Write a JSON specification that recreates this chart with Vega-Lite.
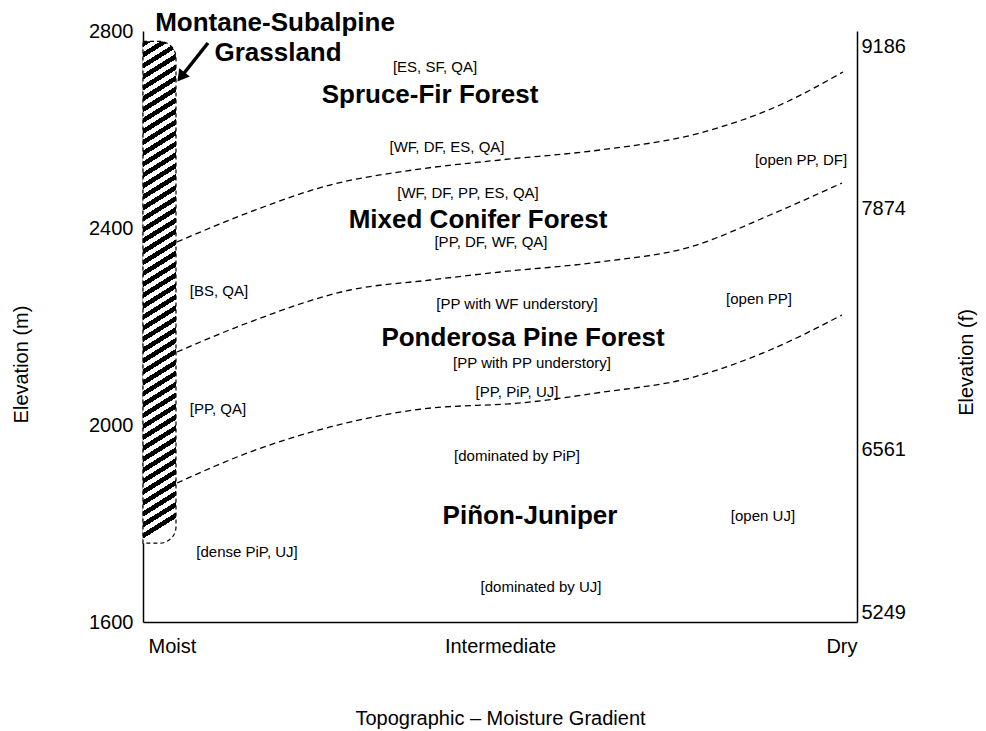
{
  "$schema": "https://vega.github.io/schema/vega-lite/v6.json",
  "autosize": "none",
  "width": 714,
  "height": 591,
  "padding": {"left": 143, "top": 31, "right": 129, "bottom": 109},
  "background": "white",
  "config": {
    "view": {"stroke": null},
    "font": "Liberation Sans",
    "axis": {
      "ticks": false,
      "grid": false,
      "domainColor": "black",
      "domainWidth": 1.5,
      "labelColor": "black",
      "titleColor": "black",
      "labelFont": "Liberation Sans",
      "titleFont": "Liberation Sans",
      "labelFontSize": 20,
      "titleFontSize": 20,
      "titleFontWeight": "normal"
    }
  },
  "datasets": {
    "band": [
      {"zone": "Montane-Subalpine Grassland", "x": 0, "x2": 0.0462, "elev": 1760, "elev2": 2779}
    ],
    "boundaries": [
      {"boundary": "Spruce-Fir / Mixed Conifer", "x": 0.0476, "elev": 2371.6},
      {"boundary": "Spruce-Fir / Mixed Conifer", "x": 0.1499, "elev": 2432.5},
      {"boundary": "Spruce-Fir / Mixed Conifer", "x": 0.2619, "elev": 2487.3},
      {"boundary": "Spruce-Fir / Mixed Conifer", "x": 0.3782, "elev": 2517.8},
      {"boundary": "Spruce-Fir / Mixed Conifer", "x": 0.5, "elev": 2538.1},
      {"boundary": "Spruce-Fir / Mixed Conifer", "x": 0.6401, "elev": 2558.4},
      {"boundary": "Spruce-Fir / Mixed Conifer", "x": 0.7801, "elev": 2592.9},
      {"boundary": "Spruce-Fir / Mixed Conifer", "x": 0.8922, "elev": 2649.8},
      {"boundary": "Spruce-Fir / Mixed Conifer", "x": 0.9804, "elev": 2716.8},
      {"boundary": "Mixed Conifer / Ponderosa", "x": 0.0476, "elev": 2148.2},
      {"boundary": "Mixed Conifer / Ponderosa", "x": 0.1499, "elev": 2209.2},
      {"boundary": "Mixed Conifer / Ponderosa", "x": 0.2899, "elev": 2274.1},
      {"boundary": "Mixed Conifer / Ponderosa", "x": 0.402, "elev": 2294.4},
      {"boundary": "Mixed Conifer / Ponderosa", "x": 0.5, "elev": 2310.7},
      {"boundary": "Mixed Conifer / Ponderosa", "x": 0.6401, "elev": 2331.0},
      {"boundary": "Mixed Conifer / Ponderosa", "x": 0.7661, "elev": 2361.4},
      {"boundary": "Mixed Conifer / Ponderosa", "x": 0.8782, "elev": 2426.4},
      {"boundary": "Mixed Conifer / Ponderosa", "x": 0.979, "elev": 2491.4},
      {"boundary": "Ponderosa / Pinyon-Juniper", "x": 0.0476, "elev": 1882.2},
      {"boundary": "Ponderosa / Pinyon-Juniper", "x": 0.1499, "elev": 1945.2},
      {"boundary": "Ponderosa / Pinyon-Juniper", "x": 0.2619, "elev": 1996.0},
      {"boundary": "Ponderosa / Pinyon-Juniper", "x": 0.388, "elev": 2032.0},
      {"boundary": "Ponderosa / Pinyon-Juniper", "x": 0.5378, "elev": 2046.0},
      {"boundary": "Ponderosa / Pinyon-Juniper", "x": 0.6401, "elev": 2066.0},
      {"boundary": "Ponderosa / Pinyon-Juniper", "x": 0.7661, "elev": 2095.4},
      {"boundary": "Ponderosa / Pinyon-Juniper", "x": 0.8782, "elev": 2152.3},
      {"boundary": "Ponderosa / Pinyon-Juniper", "x": 0.979, "elev": 2223.4}
    ],
    "labels": [
      {"kind": "zone", "label": "Montane-Subalpine", "x": 0.1849, "elev": 2816.3},
      {"kind": "zone", "label": "Grassland", "x": 0.1891, "elev": 2755.4},
      {"kind": "zone", "label": "Spruce-Fir Forest", "x": 0.402, "elev": 2670.1},
      {"kind": "zone", "label": "Mixed Conifer Forest", "x": 0.4692, "elev": 2416.3},
      {"kind": "zone", "label": "Ponderosa Pine Forest", "x": 0.5322, "elev": 2176.7},
      {"kind": "zone", "label": "Piñon-Juniper", "x": 0.542, "elev": 1815.2},
      {"kind": "species", "label": "[ES, SF, QA]", "x": 0.409, "elev": 2726.9},
      {"kind": "species", "label": "[WF, DF, ES, QA]", "x": 0.4258, "elev": 2564.5},
      {"kind": "species", "label": "[open PP, DF]", "x": 0.9216, "elev": 2538.1},
      {"kind": "species", "label": "[WF, DF, PP, ES, QA]", "x": 0.4552, "elev": 2471.1},
      {"kind": "species", "label": "[PP, DF, WF, QA]", "x": 0.4874, "elev": 2371.6},
      {"kind": "species", "label": "[BS, QA]", "x": 0.1064, "elev": 2272.1},
      {"kind": "species", "label": "[open PP]", "x": 0.8627, "elev": 2255.9},
      {"kind": "species", "label": "[PP with WF understory]", "x": 0.5238, "elev": 2245.7},
      {"kind": "species", "label": "[PP with PP understory]", "x": 0.5448, "elev": 2125.9},
      {"kind": "species", "label": "[PP, PiP, UJ]", "x": 0.5238, "elev": 2067.0},
      {"kind": "species", "label": "[PP, QA]", "x": 0.105, "elev": 2032.5},
      {"kind": "species", "label": "[dominated by PiP]", "x": 0.5238, "elev": 1937.1},
      {"kind": "species", "label": "[open UJ]", "x": 0.8683, "elev": 1815.2},
      {"kind": "species", "label": "[dense PiP, UJ]", "x": 0.1457, "elev": 1742.1},
      {"kind": "species", "label": "[dominated by UJ]", "x": 0.5574, "elev": 1671.1}
    ],
    "arrow": [
      {"x": 0.0532, "elev": 2706.6, "x2": 0.091, "elev2": 2775.6}
    ],
    "feet": [
      {"m": 1600, "ft": 5249},
      {"m": 2000, "ft": 6561},
      {"m": 2400, "ft": 7874},
      {"m": 2800, "ft": 9186}
    ]
  },
  "layer": [
    {
      "encoding": {
        "x": {
          "field": "x",
          "type": "quantitative",
          "scale": {"domain": [0, 1], "nice": false, "zero": false},
          "axis": {
            "values": [0, 0.5, 1],
            "labelExpr": "datum.value == 0 ? 'Moist' : (datum.value == 1 ? 'Dry' : 'Intermediate')",
            "labelFlush": true,
            "labelBaseline": "top",
            "labelPadding": 14,
            "labelOffset": {"condition": {"test": "datum.value == 0", "value": 5}, "value": 0},
            "title": "Topographic – Moisture Gradient",
            "titleX": 357,
            "titleY": 96,
            "titleBaseline": "middle",
            "titleAlign": "center"
          }
        },
        "y": {
          "field": "elev",
          "type": "quantitative",
          "scale": {"domain": [1600, 2800], "nice": false, "zero": false},
          "axis": {
            "values": [1600, 2000, 2400, 2800],
            "format": "d",
            "labelPadding": 10,
            "labelBaseline": "middle",
            "title": "Elevation (m)",
            "titleAngle": -90,
            "titleX": -122,
            "titleY": 333,
            "titleBaseline": "middle",
            "titleAlign": "center"
          }
        }
      },
      "layer": [
        {
          "data": {"name": "band"},
          "mark": {
            "type": "rect",
            "stroke": "black",
            "strokeWidth": 1.2,
            "strokeDash": [4, 3],
            "cornerRadiusTopRight": 33,
            "cornerRadiusBottomRight": 33,
            "fill": {
              "gradient": "linear",
              "x1": 0, "y1": 0, "x2": 0.041, "y2": 1,
              "stops": [
                {"offset": 0, "color": "#000"}, {"offset": 0.0109, "color": "#000"}, {"offset": 0.0109, "color": "#fff"}, {"offset": 0.0217, "color": "#fff"},
                {"offset": 0.0217, "color": "#000"}, {"offset": 0.0326, "color": "#000"}, {"offset": 0.0326, "color": "#fff"}, {"offset": 0.0435, "color": "#fff"},
                {"offset": 0.0435, "color": "#000"}, {"offset": 0.0543, "color": "#000"}, {"offset": 0.0543, "color": "#fff"}, {"offset": 0.0652, "color": "#fff"},
                {"offset": 0.0652, "color": "#000"}, {"offset": 0.0761, "color": "#000"}, {"offset": 0.0761, "color": "#fff"}, {"offset": 0.087, "color": "#fff"},
                {"offset": 0.087, "color": "#000"}, {"offset": 0.0978, "color": "#000"}, {"offset": 0.0978, "color": "#fff"}, {"offset": 0.1087, "color": "#fff"},
                {"offset": 0.1087, "color": "#000"}, {"offset": 0.1196, "color": "#000"}, {"offset": 0.1196, "color": "#fff"}, {"offset": 0.1304, "color": "#fff"},
                {"offset": 0.1304, "color": "#000"}, {"offset": 0.1413, "color": "#000"}, {"offset": 0.1413, "color": "#fff"}, {"offset": 0.1522, "color": "#fff"},
                {"offset": 0.1522, "color": "#000"}, {"offset": 0.163, "color": "#000"}, {"offset": 0.163, "color": "#fff"}, {"offset": 0.1739, "color": "#fff"},
                {"offset": 0.1739, "color": "#000"}, {"offset": 0.1848, "color": "#000"}, {"offset": 0.1848, "color": "#fff"}, {"offset": 0.1957, "color": "#fff"},
                {"offset": 0.1957, "color": "#000"}, {"offset": 0.2065, "color": "#000"}, {"offset": 0.2065, "color": "#fff"}, {"offset": 0.2174, "color": "#fff"},
                {"offset": 0.2174, "color": "#000"}, {"offset": 0.2283, "color": "#000"}, {"offset": 0.2283, "color": "#fff"}, {"offset": 0.2391, "color": "#fff"},
                {"offset": 0.2391, "color": "#000"}, {"offset": 0.25, "color": "#000"}, {"offset": 0.25, "color": "#fff"}, {"offset": 0.2609, "color": "#fff"},
                {"offset": 0.2609, "color": "#000"}, {"offset": 0.2717, "color": "#000"}, {"offset": 0.2717, "color": "#fff"}, {"offset": 0.2826, "color": "#fff"},
                {"offset": 0.2826, "color": "#000"}, {"offset": 0.2935, "color": "#000"}, {"offset": 0.2935, "color": "#fff"}, {"offset": 0.3043, "color": "#fff"},
                {"offset": 0.3043, "color": "#000"}, {"offset": 0.3152, "color": "#000"}, {"offset": 0.3152, "color": "#fff"}, {"offset": 0.3261, "color": "#fff"},
                {"offset": 0.3261, "color": "#000"}, {"offset": 0.337, "color": "#000"}, {"offset": 0.337, "color": "#fff"}, {"offset": 0.3478, "color": "#fff"},
                {"offset": 0.3478, "color": "#000"}, {"offset": 0.3587, "color": "#000"}, {"offset": 0.3587, "color": "#fff"}, {"offset": 0.3696, "color": "#fff"},
                {"offset": 0.3696, "color": "#000"}, {"offset": 0.3804, "color": "#000"}, {"offset": 0.3804, "color": "#fff"}, {"offset": 0.3913, "color": "#fff"},
                {"offset": 0.3913, "color": "#000"}, {"offset": 0.4022, "color": "#000"}, {"offset": 0.4022, "color": "#fff"}, {"offset": 0.413, "color": "#fff"},
                {"offset": 0.413, "color": "#000"}, {"offset": 0.4239, "color": "#000"}, {"offset": 0.4239, "color": "#fff"}, {"offset": 0.4348, "color": "#fff"},
                {"offset": 0.4348, "color": "#000"}, {"offset": 0.4457, "color": "#000"}, {"offset": 0.4457, "color": "#fff"}, {"offset": 0.4565, "color": "#fff"},
                {"offset": 0.4565, "color": "#000"}, {"offset": 0.4674, "color": "#000"}, {"offset": 0.4674, "color": "#fff"}, {"offset": 0.4783, "color": "#fff"},
                {"offset": 0.4783, "color": "#000"}, {"offset": 0.4891, "color": "#000"}, {"offset": 0.4891, "color": "#fff"}, {"offset": 0.5, "color": "#fff"},
                {"offset": 0.5, "color": "#000"}, {"offset": 0.5109, "color": "#000"}, {"offset": 0.5109, "color": "#fff"}, {"offset": 0.5217, "color": "#fff"},
                {"offset": 0.5217, "color": "#000"}, {"offset": 0.5326, "color": "#000"}, {"offset": 0.5326, "color": "#fff"}, {"offset": 0.5435, "color": "#fff"},
                {"offset": 0.5435, "color": "#000"}, {"offset": 0.5543, "color": "#000"}, {"offset": 0.5543, "color": "#fff"}, {"offset": 0.5652, "color": "#fff"},
                {"offset": 0.5652, "color": "#000"}, {"offset": 0.5761, "color": "#000"}, {"offset": 0.5761, "color": "#fff"}, {"offset": 0.587, "color": "#fff"},
                {"offset": 0.587, "color": "#000"}, {"offset": 0.5978, "color": "#000"}, {"offset": 0.5978, "color": "#fff"}, {"offset": 0.6087, "color": "#fff"},
                {"offset": 0.6087, "color": "#000"}, {"offset": 0.6196, "color": "#000"}, {"offset": 0.6196, "color": "#fff"}, {"offset": 0.6304, "color": "#fff"},
                {"offset": 0.6304, "color": "#000"}, {"offset": 0.6413, "color": "#000"}, {"offset": 0.6413, "color": "#fff"}, {"offset": 0.6522, "color": "#fff"},
                {"offset": 0.6522, "color": "#000"}, {"offset": 0.663, "color": "#000"}, {"offset": 0.663, "color": "#fff"}, {"offset": 0.6739, "color": "#fff"},
                {"offset": 0.6739, "color": "#000"}, {"offset": 0.6848, "color": "#000"}, {"offset": 0.6848, "color": "#fff"}, {"offset": 0.6957, "color": "#fff"},
                {"offset": 0.6957, "color": "#000"}, {"offset": 0.7065, "color": "#000"}, {"offset": 0.7065, "color": "#fff"}, {"offset": 0.7174, "color": "#fff"},
                {"offset": 0.7174, "color": "#000"}, {"offset": 0.7283, "color": "#000"}, {"offset": 0.7283, "color": "#fff"}, {"offset": 0.7391, "color": "#fff"},
                {"offset": 0.7391, "color": "#000"}, {"offset": 0.75, "color": "#000"}, {"offset": 0.75, "color": "#fff"}, {"offset": 0.7609, "color": "#fff"},
                {"offset": 0.7609, "color": "#000"}, {"offset": 0.7717, "color": "#000"}, {"offset": 0.7717, "color": "#fff"}, {"offset": 0.7826, "color": "#fff"},
                {"offset": 0.7826, "color": "#000"}, {"offset": 0.7935, "color": "#000"}, {"offset": 0.7935, "color": "#fff"}, {"offset": 0.8043, "color": "#fff"},
                {"offset": 0.8043, "color": "#000"}, {"offset": 0.8152, "color": "#000"}, {"offset": 0.8152, "color": "#fff"}, {"offset": 0.8261, "color": "#fff"},
                {"offset": 0.8261, "color": "#000"}, {"offset": 0.837, "color": "#000"}, {"offset": 0.837, "color": "#fff"}, {"offset": 0.8478, "color": "#fff"},
                {"offset": 0.8478, "color": "#000"}, {"offset": 0.8587, "color": "#000"}, {"offset": 0.8587, "color": "#fff"}, {"offset": 0.8696, "color": "#fff"},
                {"offset": 0.8696, "color": "#000"}, {"offset": 0.8804, "color": "#000"}, {"offset": 0.8804, "color": "#fff"}, {"offset": 0.8913, "color": "#fff"},
                {"offset": 0.8913, "color": "#000"}, {"offset": 0.9022, "color": "#000"}, {"offset": 0.9022, "color": "#fff"}, {"offset": 0.913, "color": "#fff"},
                {"offset": 0.913, "color": "#000"}, {"offset": 0.9239, "color": "#000"}, {"offset": 0.9239, "color": "#fff"}, {"offset": 0.9348, "color": "#fff"},
                {"offset": 0.9348, "color": "#000"}, {"offset": 0.9457, "color": "#000"}, {"offset": 0.9457, "color": "#fff"}, {"offset": 0.9565, "color": "#fff"},
                {"offset": 0.9565, "color": "#000"}, {"offset": 0.9674, "color": "#000"}, {"offset": 0.9674, "color": "#fff"}, {"offset": 0.9783, "color": "#fff"},
                {"offset": 0.9783, "color": "#000"}, {"offset": 0.9891, "color": "#000"}, {"offset": 0.9891, "color": "#fff"}, {"offset": 1, "color": "#fff"}
              ]
            }
          },
          "encoding": {
            "x2": {"field": "x2"},
            "y2": {"field": "elev2"}
          }
        },
        {
          "data": {"name": "boundaries"},
          "mark": {"type": "line", "interpolate": "monotone", "color": "black", "strokeWidth": 1.3, "strokeDash": [6, 4]},
          "encoding": {
            "detail": {"field": "boundary", "type": "nominal"}
          }
        },
        {
          "data": {"name": "labels"},
          "transform": [{"filter": "datum.kind == 'zone'"}],
          "mark": {"type": "text", "font": "Liberation Sans", "fontWeight": "bold", "fontSize": 26, "color": "black", "align": "center", "baseline": "middle"},
          "encoding": {
            "text": {"field": "label", "type": "nominal"}
          }
        },
        {
          "data": {"name": "labels"},
          "transform": [{"filter": "datum.kind == 'species'"}],
          "mark": {"type": "text", "font": "Liberation Sans", "fontSize": 15, "color": "black", "align": "center", "baseline": "middle"},
          "encoding": {
            "text": {"field": "label", "type": "nominal"}
          }
        },
        {
          "data": {"name": "arrow"},
          "mark": {"type": "rule", "color": "black", "strokeWidth": 3.5},
          "encoding": {
            "x2": {"field": "x2"},
            "y2": {"field": "elev2"}
          }
        },
        {
          "data": {"name": "arrow"},
          "mark": {"type": "point", "shape": "triangle-up", "filled": true, "color": "black", "opacity": 1, "size": 180, "angle": 218},
          "encoding": {}
        }
      ]
    },
    {
      "data": {"name": "feet"},
      "mark": {"type": "point", "opacity": 0},
      "encoding": {
        "y": {
          "field": "ft",
          "type": "quantitative",
          "scale": {"domain": [5249, 9186], "nice": false, "zero": false},
          "axis": {
            "orient": "right",
            "values": [5249, 6561, 7874, 9186],
            "format": "d",
            "labelPadding": 4,
            "labelBaseline": "middle",
            "labelOffset": {
              "condition": [
                {"test": "datum.value == 9186", "value": 15},
                {"test": "datum.value == 7874", "value": -19},
                {"test": "datum.value == 6561", "value": 24}
              ],
              "value": -10
            },
            "title": "Elevation (f)",
            "titleAngle": -90,
            "titleX": 109,
            "titleY": 331,
            "titleBaseline": "middle",
            "titleAlign": "center"
          }
        }
      }
    }
  ],
  "resolve": {"scale": {"y": "independent"}}
}
